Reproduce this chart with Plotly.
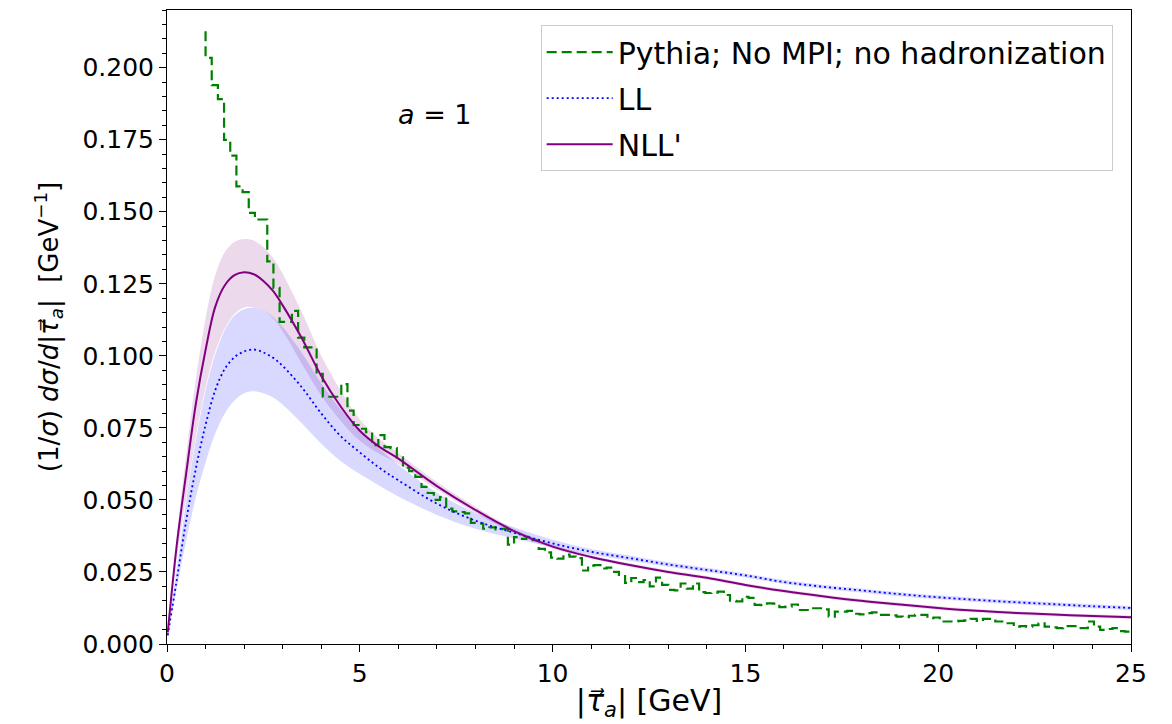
import numpy as np
import plotly.graph_objects as go

# ---------------- data ----------------
BIN_START = 1.0
BIN_STOP = 25.0
N_BINS = 150
BIN_EDGES = np.linspace(BIN_START, BIN_STOP, N_BINS + 1)

PYTHIA = [
    0.2126, 0.2034, 0.1939, 0.1891, 0.1749, 0.1695, 0.1588, 0.1568, 0.1496, 0.1473,
    0.1473, 0.1328, 0.1236, 0.1118, 0.1118, 0.1156, 0.1063, 0.1029, 0.1029, 0.0937,
    0.0858, 0.0858, 0.0858, 0.0902, 0.0810, 0.0760, 0.0747, 0.0735, 0.0690, 0.0725,
    0.0683, 0.0680, 0.0648, 0.0612, 0.0600, 0.0580, 0.0545, 0.0524, 0.0500, 0.0510,
    0.0470, 0.0460, 0.0458, 0.0453, 0.0420, 0.0418, 0.0400, 0.0405, 0.0398, 0.0400,
    0.0345, 0.0371, 0.0365, 0.0372, 0.0360, 0.0330, 0.0318, 0.0300, 0.0296, 0.0310,
    0.0303, 0.0298, 0.0255, 0.0272, 0.0274, 0.0262, 0.0265, 0.0250, 0.0236, 0.0212,
    0.0229, 0.0215, 0.0222, 0.0200, 0.0230, 0.0205, 0.0188, 0.0186, 0.0210, 0.0192,
    0.0210, 0.0180, 0.0177, 0.0178, 0.0182, 0.0170, 0.0150, 0.0148, 0.0164, 0.0160,
    0.0136, 0.0135, 0.0141, 0.0140, 0.0128, 0.0130, 0.0137, 0.0118, 0.0118, 0.0124,
    0.0124, 0.0120, 0.0095, 0.0112, 0.0112, 0.0115, 0.0105, 0.0103, 0.0107, 0.0110,
    0.0101, 0.0101, 0.0099, 0.0095, 0.0093, 0.0098, 0.0101, 0.0101, 0.0090, 0.0092,
    0.0078, 0.0078, 0.0078, 0.0080, 0.0082, 0.0087, 0.0080, 0.0087, 0.0087, 0.0078,
    0.0078, 0.0072, 0.0060, 0.0062, 0.0060, 0.0065, 0.0072, 0.0060, 0.0058, 0.0055,
    0.0062, 0.0062, 0.0055, 0.0055, 0.0078, 0.0060, 0.0049, 0.0052, 0.0055, 0.0045,
    0.0043,
]

X_CURVE = [0.02, 0.25, 0.5, 0.75, 1.0, 1.25, 1.5, 1.75, 2.0, 2.25, 2.5, 2.75, 3.0,
           3.5, 4.0, 4.5, 5.0, 5.5, 6.0, 7.0, 8.0, 9.0, 10, 11, 12, 13, 14, 15,
           16, 17, 18, 19, 20, 21, 22, 23, 24, 25]

NLL = [0.004, 0.034, 0.0595, 0.0835, 0.102, 0.1170, 0.1245, 0.1280, 0.1290, 0.1283,
       0.1260, 0.1225, 0.1175, 0.1060, 0.0930, 0.0825, 0.0740, 0.0685, 0.0643, 0.0548,
       0.0465, 0.0392, 0.0338, 0.0302, 0.0274, 0.0250, 0.0230, 0.0205, 0.0184, 0.0166,
       0.0150, 0.0137, 0.0125, 0.0115, 0.0108, 0.0102, 0.0097, 0.0093]
NLL_HI = [0.0045, 0.037, 0.066, 0.092, 0.113, 0.128, 0.136, 0.1395, 0.1405, 0.1400,
          0.1378, 0.1340, 0.1285, 0.1150, 0.1000, 0.0880, 0.0780, 0.0712, 0.0662, 0.0562,
          0.0476, 0.0400, 0.0345, 0.0308, 0.0280, 0.0256, 0.0236, 0.0211, 0.0190, 0.0172,
          0.0156, 0.0143, 0.0131, 0.0121, 0.0114, 0.0108, 0.0103, 0.0099]
NLL_LO = [0.0035, 0.0295, 0.051, 0.072, 0.0890, 0.1015, 0.1095, 0.1145, 0.1168, 0.1168,
          0.1158, 0.1130, 0.1085, 0.0972, 0.0862, 0.0775, 0.0705, 0.0660, 0.0625, 0.0535,
          0.0455, 0.0384, 0.0331, 0.0296, 0.0268, 0.0244, 0.0224, 0.0199, 0.0178, 0.0160,
          0.0144, 0.0131, 0.0119, 0.0109, 0.0102, 0.0096, 0.0091, 0.0087]

LL = [0.003, 0.022, 0.043, 0.061, 0.076, 0.088, 0.0955, 0.0995, 0.1015, 0.1022,
      0.1012, 0.0993, 0.0965, 0.0890, 0.0800, 0.0722, 0.0665, 0.0612, 0.0568, 0.0487,
      0.0428, 0.0386, 0.0349, 0.0320, 0.0298, 0.0276, 0.0257, 0.0238, 0.0215, 0.0199,
      0.0186, 0.0173, 0.0162, 0.0153, 0.0145, 0.0138, 0.0131, 0.0125]
LL_HI = [0.0035, 0.026, 0.050, 0.071, 0.088, 0.1005, 0.1090, 0.1140, 0.1162, 0.1167,
         0.1158, 0.1135, 0.1100, 0.1010, 0.0905, 0.0815, 0.0745, 0.0678, 0.0622, 0.0525,
         0.0455, 0.0405, 0.0362, 0.0330, 0.0307, 0.0284, 0.0265, 0.0245, 0.0222, 0.0206,
         0.0193, 0.0180, 0.0169, 0.0160, 0.0152, 0.0145, 0.0138, 0.0132]
LL_LO = [0.0025, 0.019, 0.036, 0.051, 0.063, 0.073, 0.0800, 0.0845, 0.0870, 0.0877,
         0.0870, 0.0855, 0.0830, 0.0765, 0.0695, 0.0635, 0.0590, 0.0550, 0.0512, 0.0448,
         0.0400, 0.0366, 0.0336, 0.0310, 0.0289, 0.0268, 0.0249, 0.0231, 0.0208, 0.0192,
         0.0179, 0.0166, 0.0155, 0.0146, 0.0138, 0.0131, 0.0124, 0.0118]

LABELS = ["Pythia; No MPI; no hadronization", "LL", "NLL'"]

# ---------------- figure ----------------
FONT = "DejaVu Sans"
fig = go.Figure()

# uncertainty bands
fig.add_trace(go.Scatter(x=X_CURVE, y=NLL_LO, mode="lines", line=dict(width=0, shape="spline"),
                         showlegend=False, hoverinfo="skip"))
fig.add_trace(go.Scatter(x=X_CURVE, y=NLL_HI, mode="lines", line=dict(width=0, shape="spline"),
                         fill="tonexty", fillcolor="rgba(128,0,128,0.15)",
                         showlegend=False, hoverinfo="skip"))
fig.add_trace(go.Scatter(x=X_CURVE, y=LL_LO, mode="lines", line=dict(width=0, shape="spline"),
                         showlegend=False, hoverinfo="skip"))
fig.add_trace(go.Scatter(x=X_CURVE, y=LL_HI, mode="lines", line=dict(width=0, shape="spline"),
                         fill="tonexty", fillcolor="rgba(0,0,255,0.15)",
                         showlegend=False, hoverinfo="skip"))

# Pythia histogram (step)
fig.add_trace(go.Scatter(x=BIN_EDGES, y=PYTHIA, mode="lines", name=LABELS[0],
                         legendgroup="g1",
                         line=dict(color="green", width=2.2, dash="10px,5px", shape="vh")))
# LL
fig.add_trace(go.Scatter(x=X_CURVE, y=LL, mode="lines", name=LABELS[1], legendgroup="g2",
                         line=dict(color="blue", width=1.8, dash="2px,3px", shape="spline")))
# NLL'
fig.add_trace(go.Scatter(x=X_CURVE, y=NLL, mode="lines", name=LABELS[2], legendgroup="g3",
                         line=dict(color="purple", width=2, shape="spline")))

fig.add_annotation(x=6.95, y=0.1837, xref="x", yref="y", text="<i>a</i> = 1",
                   showarrow=False, font=dict(family=FONT, size=27, color="black"))

axis_common = dict(showline=True, linecolor="black", linewidth=1, mirror=True,
                   ticks="outside", ticklen=7, tickwidth=1, tickcolor="black",
                   showgrid=False, zeroline=False, automargin=False,
                   tickfont=dict(family=FONT, size=25, color="black"))

fig.update_xaxes(range=[0, 25], dtick=5, tick0=0,
                 minor=dict(dtick=1, ticks="outside", ticklen=4, tickcolor="black"),
                 title=dict(text="|<i>τ⃗</i><sub><i>a</i></sub>| [GeV]",
                            font=dict(family=FONT, size=30, color="black"), standoff=2),
                 **axis_common)
fig.update_yaxes(range=[0, 0.22], dtick=0.025, tick0=0, tickformat=".3f",
                 minor=dict(dtick=0.005, ticks="outside", ticklen=4, tickcolor="black"),
                 title=dict(text="(1/<i>σ</i>) <i>dσ</i>/<i>d</i>|<i>τ⃗</i><sub><i>a</i></sub>|  [GeV<sup>−1</sup>]",
                            font=dict(family=FONT, size=26, color="black"), standoff=16),
                 **axis_common)

# page body has an 8px margin: compensate so the plot area lands where the reference has it
fig.update_layout(
    width=1164, height=718,
    margin=dict(l=159, r=41, t=2, b=82),
    plot_bgcolor="white", paper_bgcolor="white",
    font=dict(family=FONT, color="black"),
    legend=dict(x=0.981, y=0.976, xanchor="right", yanchor="top",
                bgcolor="rgba(255,255,255,0.85)", bordercolor="#cccccc", borderwidth=1,
                font=dict(family=FONT, size=30, color="black"),
                tracegroupgap=4, itemwidth=66),
)

fig.write_html("out.html")
